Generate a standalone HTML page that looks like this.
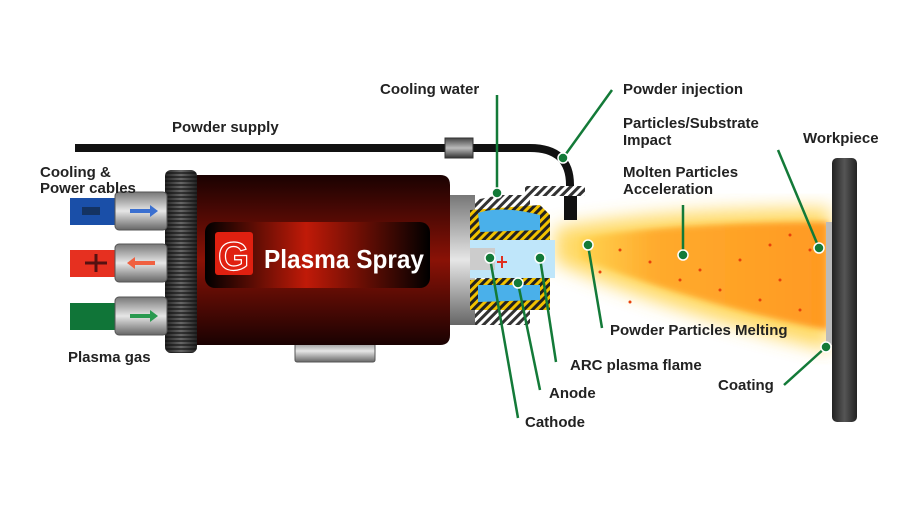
<!DOCTYPE html>
<html><head><meta charset="utf-8"><style>
html,body{margin:0;padding:0;background:#fff;width:900px;height:507px;overflow:hidden}
text{font-family:"Liberation Sans",sans-serif;font-weight:bold;font-size:15px;fill:#222}
</style></head><body>
<svg width="900" height="507" viewBox="0 0 900 507" xmlns="http://www.w3.org/2000/svg">
<defs>
<linearGradient id="body" x1="0" y1="0" x2="0" y2="1">
<stop offset="0" stop-color="#1a0202"/><stop offset="0.5" stop-color="#8a1206"/><stop offset="1" stop-color="#1a0202"/></linearGradient>
<linearGradient id="lbl" x1="0" y1="0" x2="1" y2="0">
<stop offset="0" stop-color="#000"/><stop offset="0.45" stop-color="#c01a08"/><stop offset="1" stop-color="#000"/></linearGradient>
<linearGradient id="metal" x1="0" y1="0" x2="0" y2="1">
<stop offset="0" stop-color="#777"/><stop offset="0.5" stop-color="#e6e6e6"/><stop offset="1" stop-color="#666"/></linearGradient>
<linearGradient id="dmetal" x1="0" y1="0" x2="0" y2="1">
<stop offset="0" stop-color="#444"/><stop offset="0.5" stop-color="#bbb"/><stop offset="1" stop-color="#333"/></linearGradient>
<linearGradient id="knurl" x1="0" y1="0" x2="1" y2="0">
<stop offset="0" stop-color="#222"/><stop offset="0.5" stop-color="#666"/><stop offset="1" stop-color="#222"/></linearGradient>
<pattern id="knp" width="4" height="4" patternUnits="userSpaceOnUse"><rect width="4" height="2" fill="#111" opacity="0.6"/></pattern>
<pattern id="hatch" width="6" height="6" patternUnits="userSpaceOnUse" patternTransform="rotate(45)"><rect width="6" height="6" fill="#f2c200"/><rect width="3" height="6" fill="#222"/></pattern>
<pattern id="hatchg" width="6" height="6" patternUnits="userSpaceOnUse" patternTransform="rotate(45)"><rect width="6" height="6" fill="#fff"/><rect width="3" height="6" fill="#333"/></pattern>
<linearGradient id="plume" x1="0" y1="0" x2="1" y2="0">
<stop offset="0" stop-color="#ffd24a"/><stop offset="0.3" stop-color="#ffa020"/><stop offset="1" stop-color="#ff8a10"/></linearGradient>
<filter id="blur"><feGaussianBlur stdDeviation="9"/></filter>
<filter id="blur2"><feGaussianBlur stdDeviation="3"/></filter>
<linearGradient id="wp" x1="0" y1="0" x2="1" y2="0">
<stop offset="0" stop-color="#222"/><stop offset="0.5" stop-color="#555"/><stop offset="1" stop-color="#222"/></linearGradient>
</defs>

<path d="M555,228 C640,212 760,208 830,208 L830,350 C760,335 640,300 555,262 Z" fill="#ffd040" filter="url(#blur)" opacity="0.8"/>
<path d="M580,238 C660,225 760,222 828,222 L828,330 C760,318 660,290 580,258 Z" fill="url(#plume)" filter="url(#blur2)" opacity="0.8"/>
<g fill="#e8400a">
<circle cx="620" cy="250" r="1.5"/><circle cx="650" cy="262" r="1.5"/><circle cx="700" cy="270" r="1.5"/><circle cx="740" cy="260" r="1.5"/><circle cx="780" cy="280" r="1.5"/><circle cx="760" cy="300" r="1.5"/><circle cx="800" cy="310" r="1.5"/><circle cx="720" cy="290" r="1.5"/><circle cx="680" cy="280" r="1.5"/><circle cx="810" cy="250" r="1.5"/><circle cx="790" cy="235" r="1.5"/><circle cx="630" cy="302" r="1.5"/><circle cx="600" cy="272" r="1.5"/><circle cx="770" cy="245" r="1.5"/>
</g>

<path d="M826,222 L832,222 L832,345 L826,345 Z" fill="#bbb"/>
<rect x="832" y="158" width="25" height="264" rx="5" fill="url(#wp)"/>

<path d="M75,148 L530,148 Q570,148 570,185 L570,200" fill="none" stroke="#111" stroke-width="8"/>
<rect x="445" y="138" width="28" height="20" fill="url(#dmetal)" stroke="#333"/>
<rect x="564" y="195" width="13" height="25" fill="#111"/>
<rect x="525" y="186" width="60" height="10" fill="url(#hatchg)"/>

<rect x="165" y="170" width="32" height="183" rx="6" fill="url(#knurl)"/>
<rect x="165" y="170" width="32" height="183" rx="6" fill="url(#knp)"/>

<rect x="70" y="198" width="48" height="27" fill="#1a4fa8"/>
<rect x="70" y="250" width="48" height="27" fill="#e63020"/>
<rect x="70" y="303" width="48" height="27" fill="#107538"/>
<rect x="82" y="207" width="18" height="8" fill="#123" opacity="0.6"/>
<path d="M85,263 h22 M96,254 v18" stroke="#511" stroke-width="3"/>
<g fill="url(#metal)" stroke="#555">
<rect x="115" y="192" width="52" height="38" rx="4"/>
<rect x="115" y="244" width="52" height="38" rx="4"/>
<rect x="115" y="297" width="52" height="38" rx="4"/>
</g>
<path d="M130,211 h20" stroke="#3a6fd0" stroke-width="4"/><path d="M150,205 l8,6 l-8,6z" fill="#3a6fd0"/>
<path d="M135,263 h20" stroke="#f06040" stroke-width="4"/><path d="M135,257 l-8,6 l8,6z" fill="#f06040"/>
<path d="M130,316 h20" stroke="#2a9a50" stroke-width="4"/><path d="M150,310 l8,6 l-8,6z" fill="#2a9a50"/>

<rect x="295" y="340" width="80" height="22" rx="2" fill="url(#metal)" stroke="#555"/>

<path d="M197,175 L440,175 Q450,175 450,185 L450,335 Q450,345 440,345 L197,345 Z" fill="url(#body)"/>
<rect x="205" y="222" width="225" height="66" rx="10" fill="url(#lbl)"/>
<rect x="215" y="232" width="38" height="43" rx="3" fill="#e02010"/>
<text x="218" y="270" style="font-size:40px;fill:#e02010;stroke:#fff;stroke-width:1.2">G</text>
<text x="264" y="268" textLength="160" lengthAdjust="spacingAndGlyphs" style="font-size:26px;fill:#fff">Plasma Spray</text>

<rect x="450" y="195" width="25" height="130" fill="url(#metal)"/>
<path d="M475,200 L500,195 L530,195 L530,325 L475,325 Z" fill="url(#hatchg)"/>
<path d="M470,210 L540,205 L550,215 L550,240 L470,240 Z" fill="url(#hatch)"/>
<path d="M478,213 Q500,205 540,215 L540,230 L480,232 Z" fill="#4ab0ea"/>
<path d="M470,280 L550,275 L550,310 L470,310 Z" fill="url(#hatch)"/>
<path d="M478,285 L540,285 L540,300 L478,302 Z" fill="#4ab0ea"/>
<path d="M470,240 L555,240 L555,278 L470,278 Z" fill="#bfe6fa"/>
<rect x="470" y="248" width="25" height="22" fill="#ccc"/>
<path d="M497,262 h10 M502,256 v12" stroke="#e03020" stroke-width="2"/>

<g stroke="#137a38" stroke-width="2.5" fill="none">
<path d="M497,95 L497,193"/><path d="M612,90 L563,158"/><path d="M778,150 L819,248"/>
<path d="M683,205 L683,255"/><path d="M602,328 L588,245"/><path d="M556,362 L540,258"/>
<path d="M540,390 L518,283"/><path d="M518,418 L490,258"/><path d="M784,385 L826,347"/>
</g>
<g fill="#137a38" stroke="#fff" stroke-width="1.5">
<circle cx="497" cy="193" r="5"/><circle cx="563" cy="158" r="5"/><circle cx="819" cy="248" r="5"/>
<circle cx="683" cy="255" r="5"/><circle cx="588" cy="245" r="5"/><circle cx="540" cy="258" r="5"/>
<circle cx="518" cy="283" r="5"/><circle cx="490" cy="258" r="5"/><circle cx="826" cy="347" r="5"/>
</g>

<text x="380" y="94">Cooling water</text>
<text x="623" y="94">Powder injection</text>
<text x="172" y="132">Powder supply</text>
<text x="623" y="128">Particles/Substrate</text>
<text x="623" y="145">Impact</text>
<text x="803" y="143">Workpiece</text>
<text x="623" y="177">Molten Particles</text>
<text x="623" y="194">Acceleration</text>
<text x="40" y="177">Cooling &amp;</text>
<text x="40" y="193">Power cables</text>
<text x="68" y="362">Plasma gas</text>
<text x="610" y="335">Powder Particles Melting</text>
<text x="570" y="370">ARC plasma flame</text>
<text x="549" y="398">Anode</text>
<text x="525" y="427">Cathode</text>
<text x="718" y="390">Coating</text>
</svg>
</body></html>
